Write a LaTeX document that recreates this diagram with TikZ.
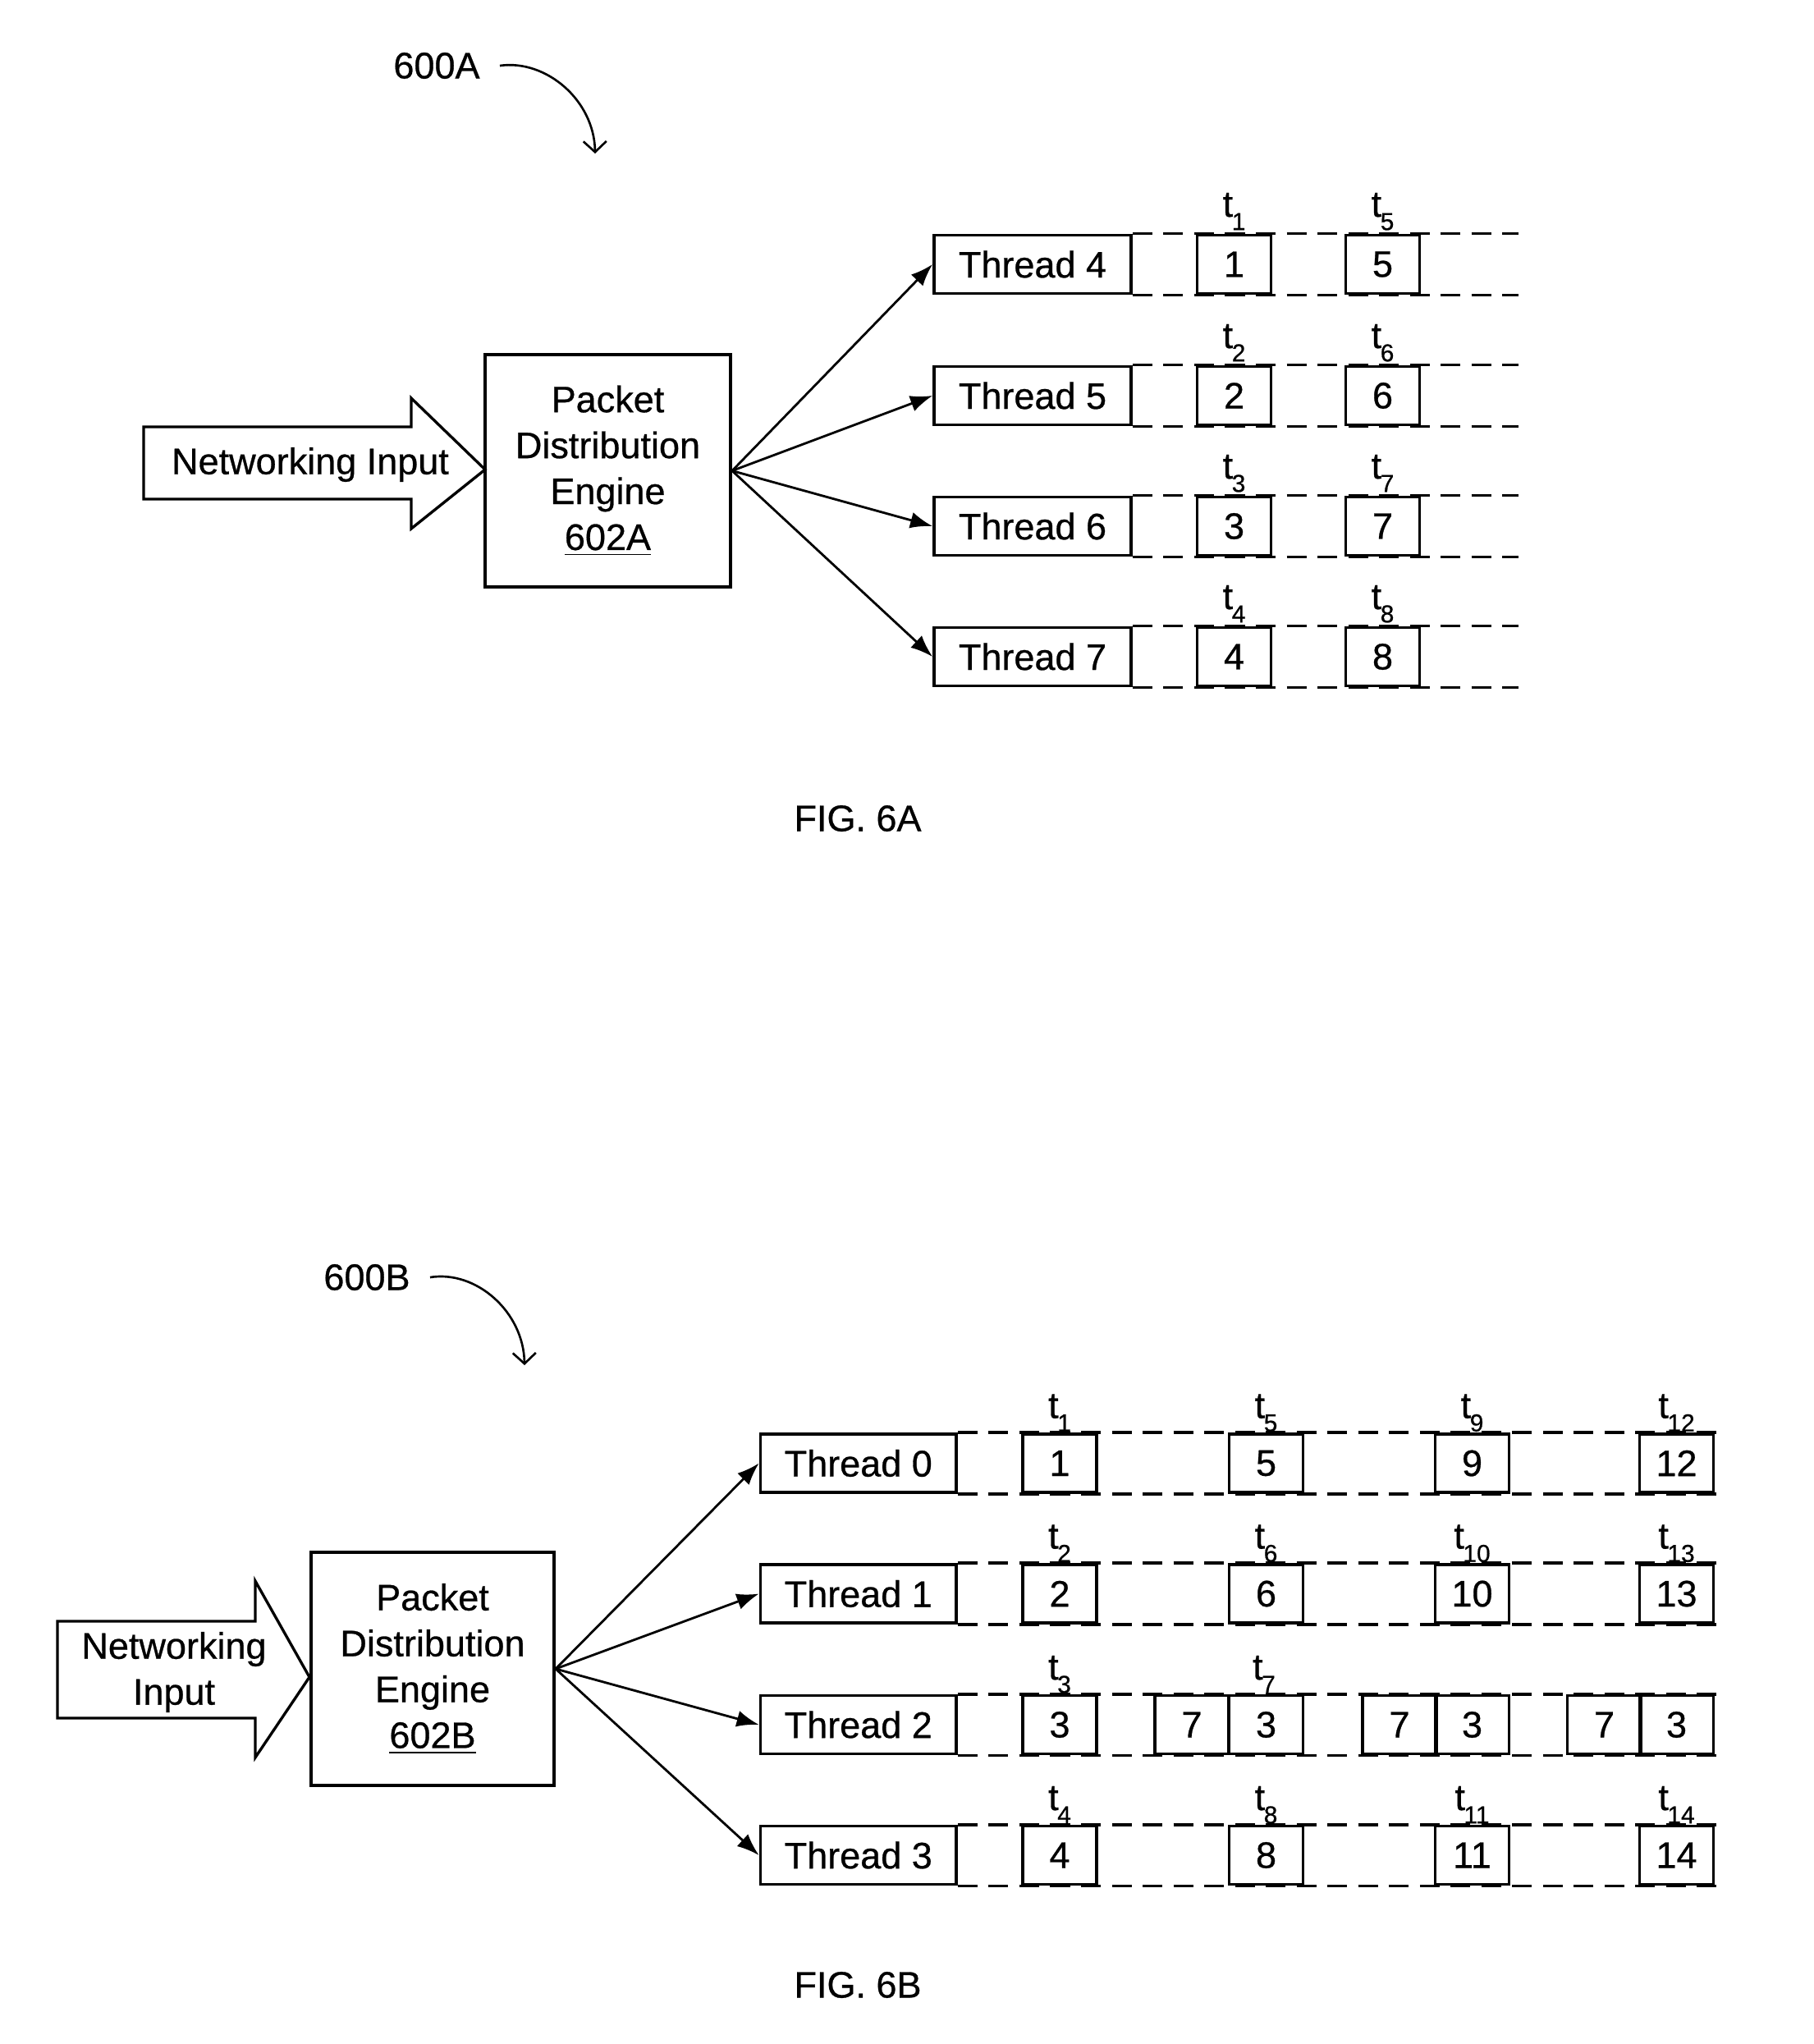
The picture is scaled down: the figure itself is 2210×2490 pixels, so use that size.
\documentclass[tikz,border=0pt]{standalone}
\usepackage{fontspec}
\setmainfont{Liberation Sans}[FakeBold=0.6]
\usetikzlibrary{arrows.meta}
\newcommand{\tsub}[1]{\kern-0.4pt\raisebox{-0.36em}{\fontsize{8.5}{8.5}\selectfont #1}}
\begin{document}
\begin{tikzpicture}[x=0.01cm,y=-0.01cm,
  every node/.style={font=\fontsize{12.8}{15.9}\selectfont},
  boxline/.style={draw, line width=1.05pt},
  thr/.style={boxline, inner sep=0pt, minimum height=0.71cm},
  num/.style={boxline, inner sep=0pt, minimum height=0.71cm, minimum width=0.9cm},
  pde/.style={boxline, inner sep=0pt, align=center},
  lane/.style={line width=1.05pt, dash pattern=on 0.24cm off 0.135cm},
  fan/.style={line width=0.8pt, -{Latex[length=0.27cm,width=0.2cm]}},
  refarrow/.style={line width=0.75pt, -{Straight Barb[length=0.13cm,width=0.28cm]}},
  tlab/.style={anchor=base, inner sep=0pt},
  bigarrow/.style={line width=0.95pt, line join=miter}]
\useasboundingbox (0,0) rectangle (2210,2490);

% ================= FIG. 6A =================
\node (labA) at (532,80) {600A};
\coordinate (curA) at (725,187);
\draw[refarrow] ([xshift=0.12cm]labA.east) .. controls (665,72) and (724,122) .. (curA);

\draw[bigarrow] (175,520) -- (501,520) -- (501,485) -- (591,572) -- (501,644) -- (501,608) -- (175,608) -- cycle;
\node (netA) at (378,566) {Networking Input};

\node[pde, minimum width=2.99cm, minimum height=2.83cm] (pdeA) at (740.5,573.5)
  {Packet\\Distribution\\Engine\\\underline{602A}};

\coordinate (endA) at (1850,0);
\foreach \n/\y/\p/\q in {4/322/1/5, 5/482/2/6, 6/641/3/7, 7/800/4/8} {
  \node[thr, minimum width=2.40cm] (tA\n) at (1258,\y) {Thread \n};
  \draw[lane] (tA\n.north east) -- (tA\n.north east -| endA);
  \draw[lane] (tA\n.south east) -- (tA\n.south east -| endA);
  \node[num] (pA\p) at (1503.5,\y) {\p};
  \node[num] (pA\q) at (1684.5,\y) {\q};
  \node[tlab] (tlA\p) at (1503.5,\y-58) {t\tsub{\p}};
  \node[tlab] (tlA\q) at (1684.5,\y-58) {t\tsub{\q}};
  \draw[fan] (pdeA.east) -- (tA\n.west);
}

\node (figA) at (1045,997) {FIG. 6A};

% ================= FIG. 6B =================
\node (labB) at (447,1556) {600B};
\coordinate (curB) at (639,1663);
\draw[refarrow] ([xshift=0.12cm]labB.east) .. controls (580,1547) and (638,1598) .. (curB);

\draw[bigarrow] (70,1975) -- (311,1975) -- (311,1926) -- (377,2043) -- (311,2141) -- (311,2093) -- (70,2093) -- cycle;
\node[align=center] (netB) at (212,2037) {Networking\\Input};

\node[pde, minimum width=2.96cm, minimum height=2.84cm] (pdeB) at (527,2033)
  {Packet\\Distribution\\Engine\\\underline{602B}};

\coordinate (endB) at (2102,0);
\foreach \n/\y in {0/1782.5, 1/1941.5, 2/2101, 3/2260} {
  \node[thr, minimum width=2.385cm] (tB\n) at (1045.75,\y) {Thread \n};
  \draw[lane] (tB\n.north east) -- (tB\n.north east -| endB);
  \draw[lane] (tB\n.south east) -- (tB\n.south east -| endB);
  \draw[fan] (pdeB.east) -- (tB\n.west);
}

% rows 0, 1, 3
\foreach \r/\y/\a/\b/\c/\d in {0/1782.5/1/5/9/12, 1/1941.5/2/6/10/13, 3/2260/4/8/11/14} {
  \node[num] (pB\a) at (1291,\y) {\a};
  \node[num] (pB\b) at (1542.5,\y) {\b};
  \node[num] (pB\c) at (1793.5,\y) {\c};
  \node[num] (pB\d) at (2042.5,\y) {\d};
  \node[tlab] (tlB\a) at (1291,\y-55) {t\tsub{\a}};
  \node[tlab] (tlB\b) at (1542.5,\y-55) {t\tsub{\b}};
  \node[tlab] (tlB\c) at (1793.5,\y-55) {t\tsub{\c}};
  \node[tlab] (tlB\d) at (2042.5,\y-55) {t\tsub{\d}};
}

% row 2 (Thread 2)
\node[num] (pB3) at (1291,2101) {3};
\node[tlab] (tlB3) at (1291,2046) {t\tsub{3}};
\foreach \k/\xs/\xt in {1/1452/1542.5, 2/1705/1793.5, 3/1954.5/2042.5} {
  \node[num] (sB\k) at (\xs,2101) {7};
  \node[num] (rB\k) at (\xt,2101) {3};
}
\node[tlab] (tlB7) at (1540,2046) {t\tsub{7}};

\node (figB) at (1045,2418) {FIG. 6B};
\end{tikzpicture}
\end{document}
